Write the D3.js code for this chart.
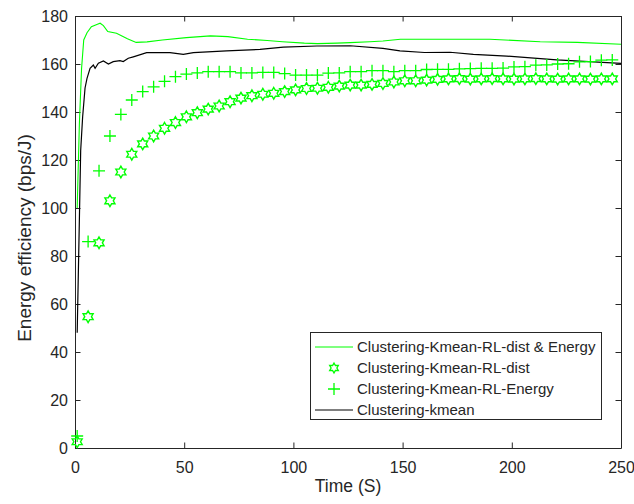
<!DOCTYPE html>
<html><head><meta charset="utf-8">
<script src="https://cdn.jsdelivr.net/npm/d3@7"></script>
<style>
html,body{margin:0;padding:0;background:#fff;}
svg{display:block;}
text{font-family:"Liberation Sans",Arial,Helvetica,sans-serif;fill:#262626;}
</style></head>
<body><svg id="chart" width="634" height="504"></svg>
<script>
// ---- data ----
const xTicks = [0, 50, 100, 150, 200, 250];
const yTicks = [0, 20, 40, 60, 80, 100, 120, 140, 160, 180];
const seriesNames = ["Clustering-Kmean-RL-dist & Energy", "Clustering-Kmean-RL-dist", "Clustering-Kmean-RL-Energy", "Clustering-kmean"];

const greenT = [1, 2, 3, 4, 5.5, 7.5, 10, 11.5, 13, 15, 19, 24, 28, 33, 40, 51, 62, 70, 79, 88, 95, 105, 111, 120, 126, 135, 141, 149, 160, 172, 190, 213, 230, 250];
const greenV = [100, 135, 158, 170, 173, 175.5, 176.5, 177, 176, 173.5, 172.8, 170.5, 169, 169.2, 170, 171, 171.7, 171.4, 170.3, 169.8, 169.3, 168.7, 168.5, 168.7, 168.9, 169.3, 169.6, 170.3, 170.3, 170.3, 170.3, 169.3, 169, 168.2];

const blackT = [1, 2, 2.6, 3.5, 4.6, 5.5, 6.9, 8.4, 9.2, 10.7, 13, 15.3, 17.5, 20.6, 22.1, 24.4, 26.7, 32.8, 43.5, 49.6, 54.2, 69.4, 84.7, 95.4, 110.7, 126, 141, 148.8, 160, 171.7, 182.4, 197.7, 220.6, 250];
const blackV = [48, 95, 124, 138, 150, 154, 158.2, 159.6, 158.2, 160.3, 161.3, 160, 161, 161.4, 161, 162.4, 163, 164.7, 164.7, 164, 164.7, 165.5, 166.1, 167, 167.5, 167.6, 166.5, 165.5, 164.8, 164.9, 164, 163.3, 161.7, 160.3];

const markerT = [1, 6, 11, 16, 21, 26, 31, 36, 41, 46, 51, 56, 61, 66, 71, 76, 81, 86, 91, 96, 101, 106, 111, 116, 121, 126, 131, 136, 141, 146, 151, 156, 161, 166, 171, 176, 181, 186, 191, 196, 201, 206, 211, 216, 221, 226, 231, 236, 241, 246];
const plusV = [5, 86, 115.5, 130, 139, 145, 148.5, 150.5, 152.8, 154.7, 155.8, 156.3, 156.8, 156.8, 156.8, 156.3, 156.3, 156.5, 156.5, 156, 155.4, 155.4, 155.4, 156.2, 156.3, 156.8, 156.8, 157.2, 157.2, 156.8, 157.2, 157.2, 157.7, 157.8, 157.8, 158, 158.1, 158.2, 158.2, 158.3, 158.8, 158.9, 159.5, 159.6, 160, 160.1, 160.9, 161, 161.6, 161.7];
const starV = [2.6, 54.7, 85.5, 103, 115, 122.4, 126.7, 130, 133.2, 135.6, 138, 139.7, 141.2, 142.5, 144.3, 145.8, 146.8, 147.4, 147.8, 148.5, 149.2, 149.8, 149.9, 150.3, 150.8, 151.2, 151.2, 151.5, 151.9, 152.5, 153, 153, 153.3, 153.6, 153.8, 153.9, 153.7, 153.8, 153.9, 153.8, 153.7, 153.8, 153.9, 153.8, 153.7, 153.8, 153.8, 153.7, 153.8, 153.8];

// ---- layout ----
const svg = d3.select("#chart");
const L = 75, R = 621, T = 16, B = 448;
const x = d3.scaleLinear().domain([0, 250]).range([L, R]);
const y = d3.scaleLinear().domain([0, 180]).range([B, T]);
const axisColor = "#262626";
const green = "#00ff00";

svg.append("rect").attr("width", 634).attr("height", 504).attr("fill", "#fff");

// axes
function styleAxis(g) {
  g.select(".domain").attr("stroke", axisColor).attr("stroke-width", 1);
  g.selectAll(".tick line").attr("stroke", axisColor).attr("stroke-width", 1);
  g.selectAll(".tick text").attr("fill", axisColor).style("font-size", "16px")
    .style("font-family", '"Liberation Sans",Arial,Helvetica,sans-serif');
}
svg.append("g").attr("transform", `translate(0,${B})`)
  .call(d3.axisBottom(x).tickValues(xTicks).tickSizeInner(-5.5).tickSizeOuter(0).tickPadding(14).tickFormat(d3.format("d")))
  .call(styleAxis);
svg.append("g").attr("transform", `translate(0,${T})`)
  .call(d3.axisTop(x).tickValues(xTicks).tickSizeInner(-5.5).tickSizeOuter(0).tickFormat(""))
  .call(styleAxis);
svg.append("g").attr("transform", `translate(${L},0)`)
  .call(d3.axisLeft(y).tickValues(yTicks).tickSizeInner(-5.5).tickSizeOuter(0).tickPadding(7).tickFormat(d3.format("d")))
  .call(styleAxis);
svg.append("g").attr("transform", `translate(${R},0)`)
  .call(d3.axisRight(y).tickValues(yTicks).tickSizeInner(-5.5).tickSizeOuter(0).tickFormat(""))
  .call(styleAxis);

// axis labels
svg.append("text").attr("x", (L + R) / 2).attr("y", 492).attr("text-anchor", "middle")
  .style("font-size", "17.5px").text("Time (S)");
svg.append("text").attr("transform", `translate(31,238) rotate(-90)`).attr("text-anchor", "middle")
  .style("font-size", "19px").text("Energy efficiency (bps/J)");

// lines
const line = d3.line().x(d => x(d[0])).y(d => y(d[1]));
const plot = svg.append("g");
plot.append("path").datum(greenT.map((t, i) => [t, greenV[i]]))
  .attr("d", line).attr("fill", "none").attr("stroke", green).attr("stroke-width", 1.1);
plot.append("path").datum(blackT.map((t, i) => [t, blackV[i]]))
  .attr("d", line).attr("fill", "none").attr("stroke", "#000").attr("stroke-width", 1.2);

// markers
function hexagram(r) {
  const pts = [];
  for (let k = 0; k < 12; k++) {
    const a = -Math.PI / 2 + k * Math.PI / 6;
    const rr = k % 2 === 0 ? r : r / Math.sqrt(3);
    pts.push([rr * Math.cos(a), rr * Math.sin(a)]);
  }
  return d3.line()(pts) + "Z";
}
const starPath = hexagram(5.8);
const plusPath = "M-6,0H6M0,-6V6";

plot.selectAll(".plus").data(markerT.map((t, i) => [t, plusV[i]])).join("path")
  .attr("class", "plus").attr("d", plusPath)
  .attr("transform", d => `translate(${x(d[0])},${y(d[1])})`)
  .attr("fill", "none").attr("stroke", green).attr("stroke-width", 1.3);
plot.selectAll(".star").data(markerT.map((t, i) => [t, starV[i]])).join("path")
  .attr("class", "star").attr("d", starPath)
  .attr("transform", d => `translate(${x(d[0])},${y(d[1])})`)
  .attr("fill", "none").attr("stroke", green).attr("stroke-width", 1.4);

// legend
const lg = svg.append("g");
lg.append("rect").attr("x", 310.5).attr("y", 332.5).attr("width", 291).attr("height", 87)
  .attr("fill", "#fff").attr("stroke", axisColor).attr("stroke-width", 1);
const rowY = [347, 368, 389, 410];
seriesNames.forEach((name, i) => {
  const yy = rowY[i];
  if (i === 0 || i === 3) {
    lg.append("line").attr("x1", 315).attr("x2", 353).attr("y1", yy).attr("y2", yy)
      .attr("stroke", i === 0 ? green : "#000").attr("stroke-width", i === 0 ? 1.1 : 1.2);
  } else {
    lg.append("path").attr("d", i === 1 ? hexagram(5) : plusPath)
      .attr("transform", `translate(334,${yy})`)
      .attr("fill", "none").attr("stroke", green).attr("stroke-width", 1.3);
  }
  lg.append("text").attr("x", 357).attr("y", yy).attr("dy", "0.35em")
    .style("font-size", "15px").text(name);
});
</script></body></html>
